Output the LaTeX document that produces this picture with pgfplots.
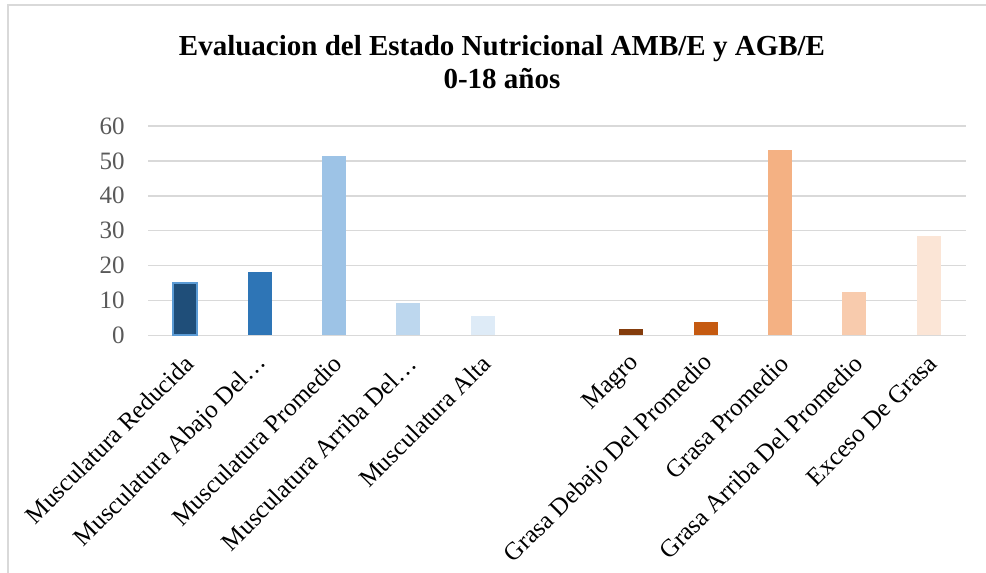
\documentclass[border=0pt]{standalone}
\usepackage{pgfplots}
\pgfplotsset{compat=1.18}
\usepackage{fontspec}
\setmainfont{Liberation Serif}
\definecolor{gridgray}{HTML}{D9D9D9}
\definecolor{tickgray}{HTML}{595959}
\definecolor{bA}{HTML}{1F4E79}
\definecolor{bAedge}{HTML}{5B9BD5}
\definecolor{bB}{HTML}{2E75B6}
\definecolor{bC}{HTML}{9DC3E6}
\definecolor{bD}{HTML}{BDD7EE}
\definecolor{bE}{HTML}{DEEBF7}
\definecolor{oA}{HTML}{843C0C}
\definecolor{oB}{HTML}{C55A11}
\definecolor{oC}{HTML}{F4B183}
\definecolor{oD}{HTML}{F8CBAD}
\definecolor{oE}{HTML}{FBE5D6}
\begin{document}
\begin{tikzpicture}
\useasboundingbox (0pt,0pt) rectangle (493pt,286.5pt);
\draw[gridgray, line width=1pt] (4pt,0pt) -- (4pt,284pt) -- (493pt,284pt);
\node[font=\fontsize{14.5}{16.5}\selectfont\bfseries, align=center] at (251pt,255.5pt) {Evaluacion del Estado Nutricional AMB/E y AGB/E\\0-18 años};
\begin{axis}[
  at={(74pt,118.85pt)}, anchor=south west,
  scale only axis, width=409pt, height=104.65pt,
  xmin=-0.5, xmax=10.5, ymin=0, ymax=60,
  ytick={0,10,...,60},
  xtick={0,1,2,3,4,6,7,8,9,10},
  xticklabels={Musculatura Reducida, Musculatura Abajo Del…, Musculatura Promedio, Musculatura Arriba Del…, Musculatura Alta, Magro, Grasa Debajo Del Promedio, Grasa Promedio, Grasa Arriba Del Promedio, Exceso De Grasa},
  ymajorgrids, grid style={gridgray, line width=0.75pt},
  axis lines*=left,
  y axis line style={draw=none},
  x axis line style={gridgray, line width=0.75pt, -},
  major tick length=0pt,
  /pgf/number format/assume math mode=true,
  yticklabel style={font=\fontsize{12.5}{14}\selectfont, text=tickgray, inner sep=0pt, anchor=east, xshift=-11.5pt},
  xticklabel style={font=\fontsize{12.5}{14}\selectfont, text=black, inner sep=0pt, xshift=2pt, yshift=-12pt, rotate=45, anchor=east},
  ybar, bar width=12pt, bar shift=0pt,
  clip=false,
]
\addplot[fill=bA, draw=bAedge, line width=1pt] coordinates {(0,15.1)};
\addplot[fill=bB, draw=none] coordinates {(1,18.1)};
\addplot[fill=bC, draw=none] coordinates {(2,51.4)};
\addplot[fill=bD, draw=none] coordinates {(3,9.2)};
\addplot[fill=bE, draw=none] coordinates {(4,5.5)};
\addplot[fill=oA, draw=none] coordinates {(6,1.8)};
\addplot[fill=oB, draw=none] coordinates {(7,3.8)};
\addplot[fill=oC, draw=none] coordinates {(8,53.1)};
\addplot[fill=oD, draw=none] coordinates {(9,12.4)};
\addplot[fill=oE, draw=none] coordinates {(10,28.4)};
\end{axis}
\end{tikzpicture}
\end{document}
